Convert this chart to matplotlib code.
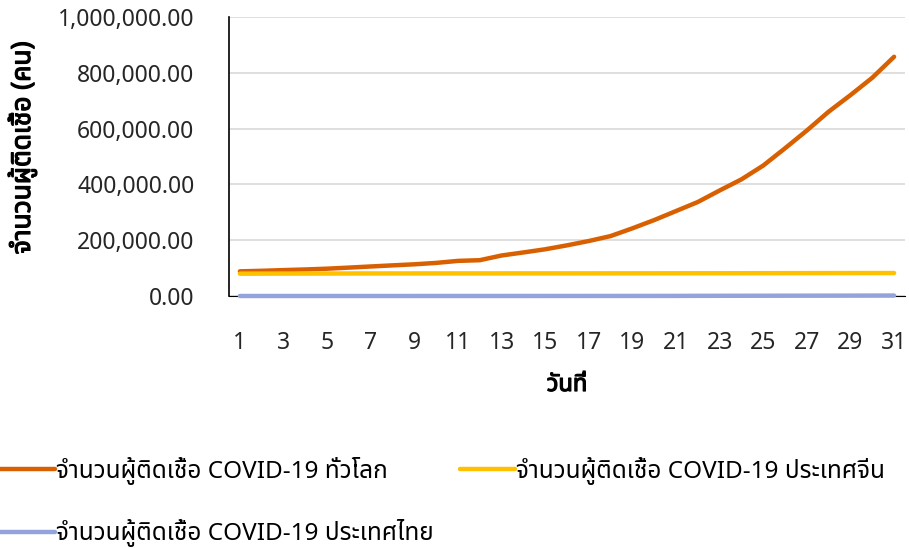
import numpy as np
import matplotlib
matplotlib.use("Agg")
import matplotlib.pyplot as plt
import matplotlib.patheffects as pe
from matplotlib import font_manager
from matplotlib.ft2font import FT2Font
from matplotlib.ticker import FuncFormatter

# ── data: cumulative COVID-19 cases, days 1..31 ─────────────────────────────
days = list(range(1, 32))
world = [88369, 90306, 92840, 95120, 97886, 101801, 105847, 109821, 113590,
         118620, 125875, 128352, 145205, 156101, 167454, 181574, 197102,
         214821, 242570, 272208, 304507, 336953, 378235, 418045, 467653,
         529591, 593291, 660706, 720117, 782365, 857487]
china = [79968, 80174, 80302, 80422, 80565, 80710, 80813, 80859, 80904,
         80924, 80955, 80980, 80995, 81033, 81062, 81099, 81135, 81203,
         81250, 81305, 81397, 81454, 81548, 81601, 81747, 81846, 81960,
         82078, 82160, 82240, 82290]
thailand = [42, 43, 43, 43, 47, 48, 50, 50, 50, 53, 59, 70, 75, 82, 114, 147,
            177, 212, 272, 322, 411, 599, 721, 827, 934, 1045, 1136, 1245,
            1388, 1524, 1651]

series_labels = ["จำนวนผู้ติดเชื้อ COVID-19 ทั่วโลก",
                 "จำนวนผู้ติดเชื้อ COVID-19 ประเทศจีน",
                 "จำนวนผู้ติดเชื้อ COVID-19 ประเทศไทย"]
colors = ["#D86000", "#FFC000", "#95A3DD"]
y_label = "จำนวนผู้ติดเชื้อ (คน)"
x_label = "วันที่"


# find an installed font that actually has Thai glyphs
def thai_family():
    preferred = ["Noto Sans Thai", "Noto Sans Thai UI", "Tahoma", "Leelawadee UI",
                 "Loma", "Garuda", "Norasi", "Sawasdee", "Umpush", "Kinnari"]
    found = {}
    for f in font_manager.fontManager.ttflist:
        try:
            cmap = FT2Font(f.fname).get_charmap()
        except Exception:
            continue
        if 0x0E08 in cmap and 0x0E33 in cmap:
            found.setdefault(f.name, f.fname)
    for p in preferred:
        if p in found:
            return p
    return next(iter(found), None)


thai = thai_family()
families = [thai, "DejaVu Sans"] if thai else ["DejaVu Sans"]
plt.rcParams["font.family"] = families

fig = plt.figure(figsize=(9.09, 5.48), dpi=100)
ax = fig.add_axes([229 / 909, 1 - 296 / 548, (905 - 229) / 909, (296 - 17) / 548])

lines = []
for vals, lab, c in zip([world, china, thailand], series_labels, colors):
    ln, = ax.plot(days, vals, color=c, lw=3.2, solid_capstyle="round",
                  label=lab, zorder=3, clip_on=False)
    lines.append(ln)

ax.set_xlim(0.5, 31.5)
ax.set_ylim(0, 1_000_000)
ax.set_xticks(days[::2])
ax.set_yticks(np.arange(0, 1_000_001, 200_000))
ax.yaxis.set_major_formatter(FuncFormatter(lambda v, p: f"{v:,.2f}"))
ax.tick_params(axis="both", length=0, labelsize=16.5, colors="#262626")
ax.tick_params(axis="x", pad=25)
ax.tick_params(axis="y", pad=25)
ax.grid(axis="y", color="#d9d9d9", lw=1.2)
ax.set_axisbelow(True)
for s in ["top", "right"]:
    ax.spines[s].set_visible(False)
ax.spines["left"].set_color("black")
ax.spines["bottom"].set_color("black")
ax.spines["left"].set_linewidth(1.2)

bold = [pe.withStroke(linewidth=0.9, foreground="black")]
yl = ax.set_ylabel(y_label, fontsize=19, fontweight="bold", color="black")
yl.set_va("center")
ax.yaxis.set_label_coords(-(229 - 22) / 676, (296 - 148) / 279)
yl.set_path_effects(bold)
xl = ax.set_xlabel(x_label, fontsize=17, fontweight="bold", color="black")
ax.xaxis.set_label_coords(0.5, -(385 - 296) / 279)
xl.set_va("center")
xl.set_path_effects(bold)

# column-major fill: world, thailand in col 1, china in col 2
order = [0, 2, 1]
fig.legend([lines[i] for i in order], [series_labels[i] for i in order],
           loc="upper left", bbox_to_anchor=(0.0, 1 - 457 / 548),
           ncol=2, frameon=False, fontsize=17.5, handlelength=2.25,
           handletextpad=0.05, columnspacing=1.1, borderpad=0, borderaxespad=0,
           labelspacing=1.4)

fig.savefig("out.png", dpi=100)
